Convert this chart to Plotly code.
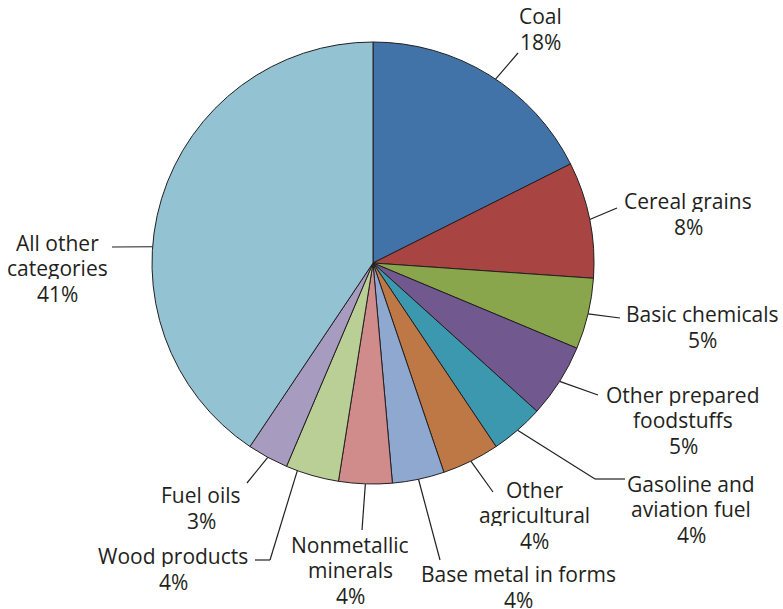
import math
import plotly.graph_objects as go

# slice shares (sum ~100), printed percentages as shown
categories = ["Coal", "Cereal grains", "Basic chemicals", "Other prepared foodstuffs",
              "Gasoline and aviation fuel", "Other agricultural", "Base metal in forms",
              "Nonmetallic minerals", "Wood products", "Fuel oils", "All other categories"]
shares = [17.6, 8.5, 5.2, 5.4, 3.9, 4.2, 3.8, 3.9, 3.9, 3.0, 40.6]
pct_labels = ["18%", "8%", "5%", "5%", "4%", "4%", "4%", "4%", "4%", "3%", "41%"]
label_lines = [["Coal"], ["Cereal grains"], ["Basic chemicals"], ["Other prepared", "foodstuffs"],
               ["Gasoline and", "aviation fuel"], ["Other", "agricultural"], ["Base metal in forms"],
               ["Nonmetallic", "minerals"], ["Wood products"], ["Fuel oils"], ["All other", "categories"]]
colors = ["#4273a8", "#a84542", "#8aa64c", "#71598f", "#3c98ae", "#bd7845",
          "#8ea8cf", "#d08b8b", "#b9cf96", "#a79bbf", "#93c3d3"]

W, H = 783, 609
cx, cy, r = 373, 263, 221
ink = "#231f20"
line_gap = 25.5

# label block centre, leader end, optional elbow (pixels)
label_pos = [(540, 29), (688, 214), (702, 327), (683, 420), (691, 509), (534, 515),
             (518, 587), (350, 570), (173, 569), (201, 508), (57, 268)]
leader_end = [(518, 53), (617, 208), (620, 318), (598, 395), (595, 479), (493, 492),
              (440, 560), (362, 530), (270, 560), (247, 483), (112, 247)]
leader_elbow = {4: (625, 479), 8: (255, 560)}
leader_nudge = {0: 2, 8: 4, 10: -12.7}  # degrees off the slice middle


def paper(x, y):
    return x / W, 1 - y / H


fig = go.Figure(go.Pie(
    labels=categories, values=shares, sort=False, direction="clockwise", rotation=0,
    textinfo="none", hoverinfo="label+percent", showlegend=False,
    marker=dict(colors=colors, line=dict(color=ink, width=1)),
    domain=dict(x=[(cx - r) / W, (cx + r) / W], y=[1 - (cy + r) / H, 1 - (cy - r) / H]),
))

total = sum(shares)
shapes, annotations = [], []
cum = 0
for i, v in enumerate(shares):
    mid = (cum + v / 2) / total * 2 * math.pi + math.radians(leader_nudge.get(i, 0))
    cum += v
    sx, sy = cx + r * math.sin(mid), cy - r * math.cos(mid)
    pts = [(sx, sy), leader_end[i]]
    if i in leader_elbow:
        pts.append(leader_elbow[i])
    for (x0, y0), (x1, y1) in zip(pts[:-1], pts[1:]):
        px0, py0 = paper(x0, y0)
        px1, py1 = paper(x1, y1)
        shapes.append(dict(type="line", xref="paper", yref="paper", x0=px0, y0=py0,
                           x1=px1, y1=py1, line=dict(color=ink, width=1.2)))
    lines = label_lines[i] + [pct_labels[i]]
    lx, ly = label_pos[i]
    for k, txt in enumerate(lines):
        ax, ay = paper(lx, ly + (k - (len(lines) - 1) / 2) * line_gap)
        annotations.append(dict(xref="paper", yref="paper", x=ax, y=ay, xanchor="center",
                                yanchor="middle", showarrow=False, text=txt,
                                height=22, valign="middle",
                                font=dict(family="Open Sans", size=21, color=ink)))

fig.update_layout(width=W, height=H, margin=dict(l=0, r=0, t=0, b=0),
                  paper_bgcolor="white", plot_bgcolor="white",
                  shapes=shapes, annotations=annotations)

fig.write_html("out.html", config={"displayModeBar": False},
               post_script="document.body.style.margin = '0';")
